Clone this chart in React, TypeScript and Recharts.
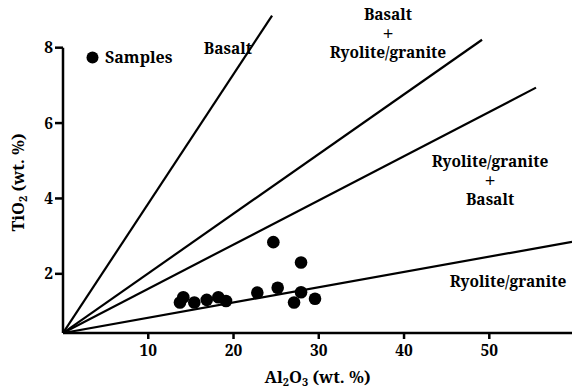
import React from "react";
import {
  ScatterChart,
  Scatter,
  XAxis,
  YAxis,
  ReferenceLine,
  ReferenceDot,
  Legend,
} from "recharts";

const FONT = "'Nimbus Roman', 'Nimbus Roman No9 L', 'Noto Serif', FreeSerif, 'Liberation Serif', 'DejaVu Serif', serif";

// Sample points: Al2O3 (wt. %) vs TiO2 (wt. %)
const sampleAl2O3 = [24.67, 27.92, 14.11, 13.72, 15.4, 16.86, 18.22, 19.12, 22.79, 25.18, 27.92, 27.1, 29.56];
const sampleTiO2 = [2.84, 2.3, 1.38, 1.24, 1.24, 1.31, 1.38, 1.28, 1.5, 1.63, 1.51, 1.24, 1.34];

// Discrimination lines: start and end points
const lineStart = { x: 0, y: 0.43 };
const lineEndsX = [24.52, 49.15, 55.48, 59.7];
const lineEndsY = [8.85, 8.21, 6.94, 2.85];

// Field labels (lines of each label, and the centre of each label)
const labelLines = [
  ["Basalt"],
  ["Basalt", "+", "Ryolite/granite"],
  ["Ryolite/granite", "+", "Basalt"],
  ["Ryolite/granite"],
];
const labelX = [19.35, 38.12, 50.09, 52.2];
const labelY = [8.0, 8.4, 4.5, 1.81];

const xTicks = [10, 20, 30, 40, 50];
const yTicks = [2, 4, 6, 8];
const xDomain = [0, 59.7];
const yDomain = [0.43, 9];

const samples = sampleAl2O3.map((x, i) => ({ x, y: sampleTiO2[i] }));
const lines = lineEndsX.map((x, i) => [lineStart, { x, y: lineEndsY[i] }]);
const labels = labelLines.map((t, i) => ({ t, x: labelX[i], y: labelY[i] }));

const noShape = () => <g />;
const dotShape = (p: any) => <circle cx={p.cx} cy={p.cy} r={6.3} fill="#000" />;

const LINE_GAP = 19;

const makeFieldLabel = (rows: string[]) => (props: any) => {
  const vb = props.viewBox || {};
  const cx = (vb.x || 0) + (vb.width || 0) / 2;
  const cy = (vb.y || 0) + (vb.height || 0) / 2;
  const y0 = cy - (LINE_GAP * (rows.length - 1)) / 2;
  return (
    <text
      x={cx}
      y={y0}
      textAnchor="middle"
      dominantBaseline="central"
      fontFamily={FONT}
      fontSize={15.5}
      fontWeight="bold"
      fill="#000"
    >
      {rows.map((r, i) => (
        <tspan
          key={i}
          x={cx}
          dy={i === 0 ? 0 : LINE_GAP}
          fontSize={r === "+" ? 20 : 15.5}
          fontWeight={r === "+" ? "normal" : "bold"}
        >
          {r}
        </tspan>
      ))}
    </text>
  );
};

const XTitle = (props: any) => {
  const vb = props.viewBox || {};
  const cx = vb.x + vb.width / 2;
  const y = vb.y + 50;
  return (
    <text x={cx} y={y} textAnchor="middle" fontFamily={FONT} fontSize={16.5} fontWeight="bold" fill="#000">
      Al<tspan dy={3} fontSize={11}>2</tspan>
      <tspan dy={-3}>O</tspan>
      <tspan dy={3} fontSize={11}>3</tspan>
      <tspan dy={-3}> (wt. %)</tspan>
    </text>
  );
};

const YTitle = (props: any) => {
  const vb = props.viewBox || {};
  const cx = 24;
  const cy = vb.y + vb.height / 2 + 11;
  return (
    <text
      x={cx}
      y={cy}
      textAnchor="middle"
      transform={`rotate(-90 ${cx} ${cy})`}
      fontFamily={FONT}
      fontSize={16.5}
      fontWeight="bold"
      fill="#000"
    >
      TiO<tspan dy={3} fontSize={11}>2</tspan>
      <tspan dy={-3}> (wt. %)</tspan>
    </text>
  );
};

const LegendContent = () => (
  <div
    style={{
      display: "flex",
      alignItems: "center",
      fontFamily: FONT,
      fontSize: 16,
      fontWeight: "bold",
      color: "#000",
      lineHeight: "20px",
    }}
  >
    <svg width={13} height={13}>
      <circle cx={6.5} cy={6.5} r={6} fill="#000" />
    </svg>
    <span style={{ marginLeft: 6 }}>Samples</span>
  </div>
);

export default function App() {
  return (
    <div style={{ position: "absolute", left: 0, top: 0, background: "#fff" }}>
      <ScatterChart width={573} height={391} margin={{ top: 10, right: 1, bottom: 0, left: 0 }}>
        <XAxis
          type="number"
          dataKey="x"
          domain={xDomain}
          ticks={xTicks}
          allowDataOverflow
          height={58}
          axisLine={{ stroke: "#000", strokeWidth: 2.5 }}
          tickLine={{ stroke: "#000", strokeWidth: 2.5 }}
          tickSize={6}
          tickMargin={6}
          tick={{ fill: "#000", fontSize: 15.5, fontFamily: FONT, fontWeight: "bold" }}
          label={{ content: XTitle }}
        />
        <YAxis
          type="number"
          dataKey="y"
          domain={yDomain}
          ticks={yTicks}
          allowDataOverflow
          width={63}
          axisLine={false}
          tickLine={{ stroke: "#000", strokeWidth: 2.5 }}
          tickSize={8}
          tickMargin={2}
          tick={{ fill: "#000", fontSize: 15.5, fontFamily: FONT, fontWeight: "bold" }}
          label={{ content: YTitle }}
        />
        <ReferenceLine
          segment={[{ x: 0, y: yDomain[0] }, { x: 0, y: 8 }]}
          stroke="#000"
          strokeWidth={2.5}
        />
        {lines.map((d, i) => (
          <Scatter
            key={"l" + i}
            data={d}
            line={{ stroke: "#000", strokeWidth: 2.2 }}
            shape={noShape}
            legendType="none"
            isAnimationActive={false}
          />
        ))}
        <Scatter name="Samples" data={samples} shape={dotShape} fill="#000" isAnimationActive={false} />
        {labels.map((l, i) => (
          <ReferenceDot
            key={"t" + i}
            x={l.x}
            y={l.y}
            r={0}
            stroke="none"
            fill="none"
            label={{ content: makeFieldLabel(l.t) }}
          />
        ))}
        <Legend
          layout="horizontal"
          verticalAlign="middle"
          align="center"
          content={LegendContent}
          wrapperStyle={{ left: 86, top: 47, width: "auto" }}
        />
      </ScatterChart>
    </div>
  );
}
